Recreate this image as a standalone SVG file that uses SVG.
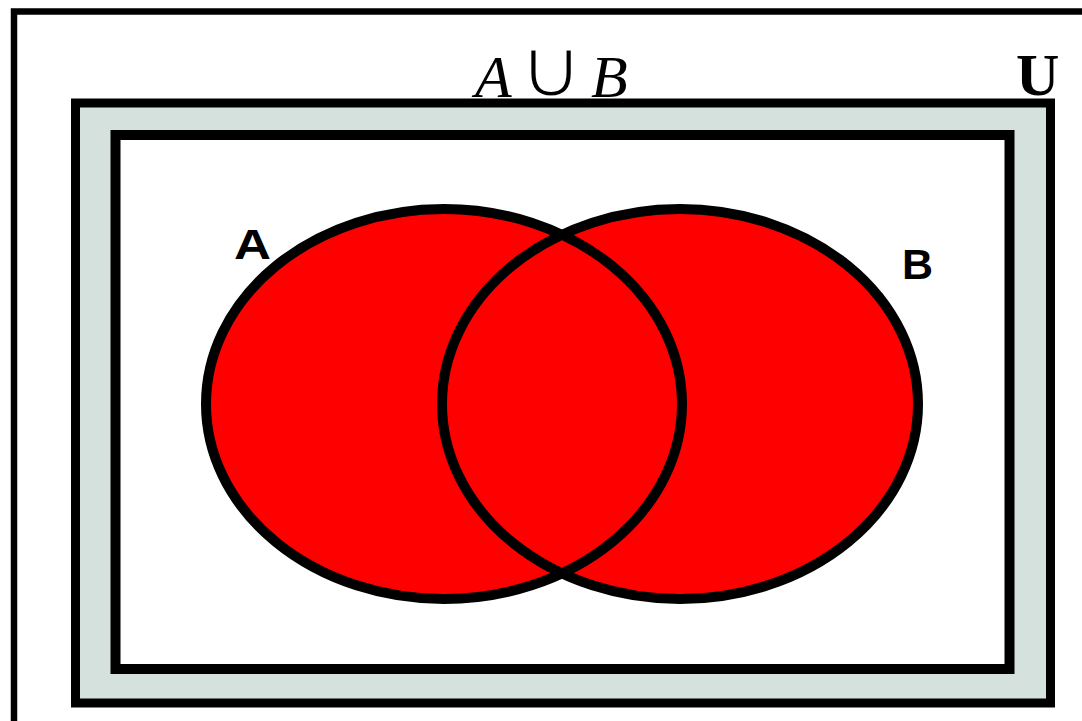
<svg xmlns="http://www.w3.org/2000/svg" width="1082" height="721" viewBox="0 0 1082 721">
  <style>
    .frame { fill: none; stroke: #000; }
    .set { fill: #ff0000; stroke: none; }
    .outline { fill: none; stroke: #000; stroke-width: 10; }
    .label { font-family: "Liberation Sans", Arial, sans-serif; font-weight: bold; font-size: 43px; fill: #000; }
    .math { font-family: "Liberation Serif", "Times New Roman", serif; font-size: 60px; fill: #000; }
  </style>
  <rect x="0" y="0" width="1082" height="721" fill="#fff"/>
  <g id="universe">
    <rect class="frame" x="14" y="11.5" width="1090" height="715" stroke-width="6.5"/>
    <text class="math" x="1016" y="95" font-weight="bold">U</text>
  </g>
  <g id="title">
    <text class="math" x="475" y="97" font-style="italic" font-size="62">A</text>
    <text class="math" font-family="Liberation Serif, DejaVu Serif, serif" transform="translate(518,97) scale(1.5,1.38)" x="0" y="0" stroke="#fff" stroke-width="2.2" paint-order="fill stroke">∪</text>
    <text class="math" x="591" y="97" font-style="italic">B</text>
  </g>
  <g id="union-band">
    <rect x="75.5" y="103" width="975" height="600" fill="#d4e1dc" stroke="#000" stroke-width="9"/>
  </g>
  <g id="inner-box">
    <rect x="115.5" y="135" width="894" height="534" fill="#fff" stroke="#000" stroke-width="10"/>
  </g>
  <g id="set-A">
    <ellipse class="set" cx="444" cy="404" rx="238" ry="195"/>
  </g>
  <g id="set-B">
    <ellipse class="set" cx="680" cy="404" rx="238" ry="195"/>
  </g>
  <g id="outlines">
    <ellipse class="outline" cx="444" cy="404" rx="238" ry="195"/>
    <ellipse class="outline" cx="680" cy="404" rx="238" ry="195"/>
  </g>
  <g id="labels">
    <text class="label" x="234" y="259" textLength="37" lengthAdjust="spacingAndGlyphs">A</text>
    <text class="label" x="902" y="279">B</text>
  </g>
</svg>
